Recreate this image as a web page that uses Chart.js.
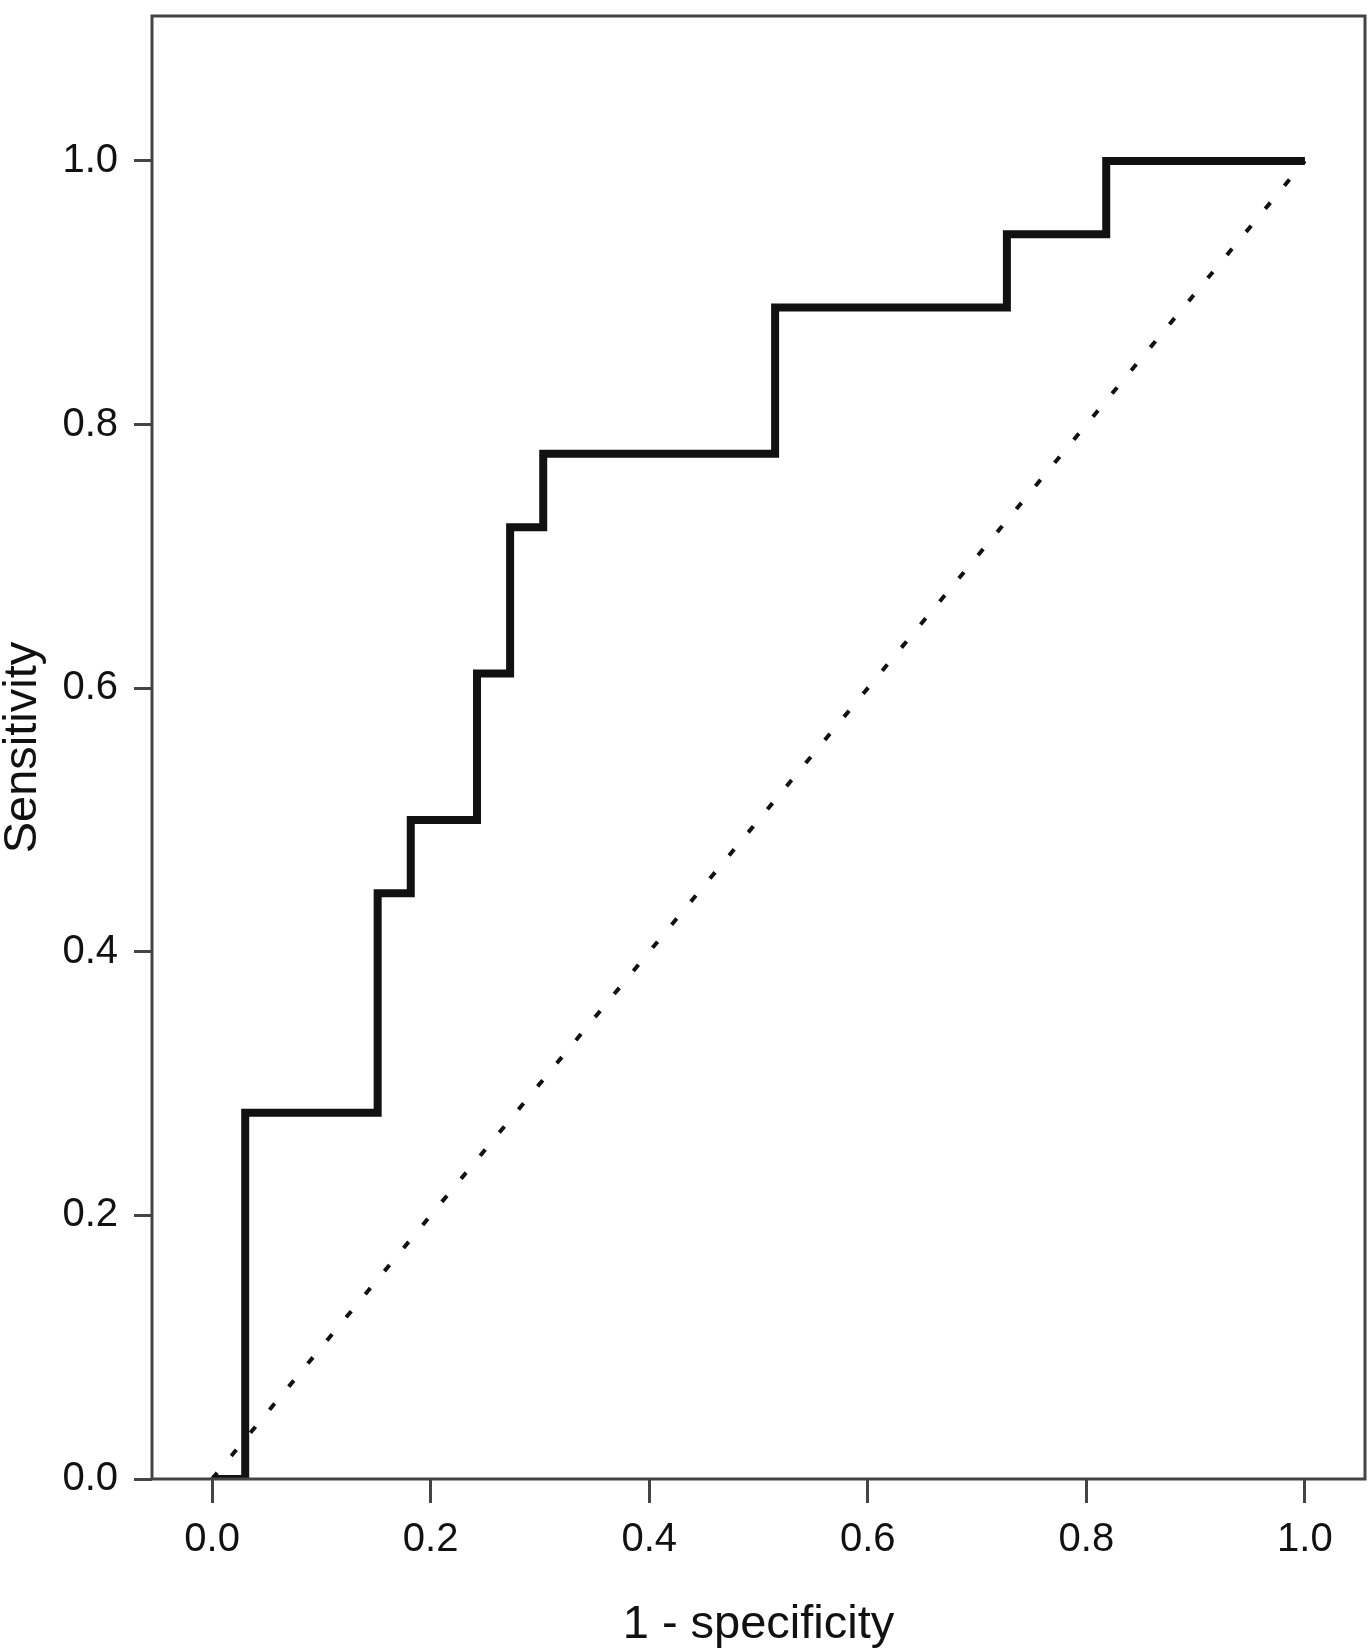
<!DOCTYPE html>
<html>
<head>
<meta charset="utf-8">
<script src="https://cdn.jsdelivr.net/npm/chart.js@4.4.1/dist/chart.umd.min.js"></script>
<style>
  body { margin: 0; background: #fff; }
  #wrap { width: 1370px; height: 1649px; position: relative; }
</style>
</head>
<body>
<div id="wrap"><canvas id="roc"></canvas></div>
<script>
// ROC step curve (1 - specificity, sensitivity)
const fpr = [0, 0.0303, 0.0303, 0.1515, 0.1515, 0.1818, 0.1818, 0.2424, 0.2424, 0.2727, 0.2727, 0.3030, 0.3030, 0.5152, 0.5152, 0.7273, 0.7273, 0.8182, 0.8182, 1.0];
const tpr = [0, 0, 0.2778, 0.2778, 0.4444, 0.4444, 0.5, 0.5, 0.6111, 0.6111, 0.7222, 0.7222, 0.7778, 0.7778, 0.8889, 0.8889, 0.9444, 0.9444, 1.0, 1.0];
// reference diagonal
const diagX = [0, 1];
const diagY = [0, 1];

const xTicks = [0, 0.2, 0.4, 0.6, 0.8, 1.0];
const yTicks = [0, 0.2, 0.4, 0.6, 0.8, 1.0];

const FONT = "'Liberation Sans', Arial, Helvetica, sans-serif";
const AXIS = '#444';

// box around the plot area
const frame = {
    id: 'frame',
    afterDraw(chart) {
        const { ctx, chartArea: a } = chart;
        ctx.save();
        ctx.strokeStyle = AXIS;
        ctx.lineWidth = 3;
        ctx.strokeRect(a.left, a.top, a.right - a.left, a.bottom - a.top);
        ctx.restore();
    }
};

const toPts = (xs, ys) => xs.map((x, i) => ({ x: x, y: ys[i] }));

new Chart(document.getElementById('roc'), {
    type: 'scatter',
    data: {
        datasets: [
            {
                data: toPts(diagX, diagY),
                showLine: true,
                borderColor: '#111',
                borderWidth: 4,
                borderDash: [8, 22],
                pointRadius: 0,
            },
            {
                data: toPts(fpr, tpr),
                showLine: true,
                borderColor: '#111',
                borderWidth: 8,
                borderJoinStyle: 'miter',
                borderCapStyle: 'butt',
                pointRadius: 0,
            },
        ]
    },
    options: {
        responsive: true,
        maintainAspectRatio: false,
        animation: false,
        layout: { padding: { top: 16, right: 5, left: 0, bottom: 0 } },
        plugins: {
            legend: { display: false },
            tooltip: { enabled: false },
        },
        scales: {
            x: {
                type: 'linear',
                min: -0.055,
                max: 1.055,
                afterBuildTicks: (s) => { s.ticks = xTicks.map(v => ({ value: v })); },
                afterFit: (s) => { s.height = 170; s.paddingLeft = 0; s.paddingRight = 0; },
                border: { display: false },
                grid: {
                    drawOnChartArea: false,
                    drawTicks: true,
                    tickLength: 24,
                    tickWidth: 3,
                    tickColor: AXIS,
                },
                ticks: {
                    padding: 13,
                    color: '#111',
                    font: { family: FONT, size: 40 },
                    maxRotation: 0,
                    callback: (v) => Number(v).toFixed(1),
                },
                title: {
                    display: true,
                    text: '1 - specificity',
                    color: '#111',
                    font: { family: FONT, size: 47, lineHeight: 1 },
                    padding: { top: 0, bottom: 0 },
                },
            },
            y: {
                type: 'linear',
                min: 0,
                max: 1.11,
                afterBuildTicks: (s) => { s.ticks = yTicks.map(v => ({ value: v })); },
                afterFit: (s) => { s.width = 152; s.paddingTop = 0; s.paddingBottom = 0; },
                border: { display: false },
                grid: {
                    drawOnChartArea: false,
                    drawTicks: true,
                    tickLength: 18,
                    tickWidth: 3,
                    tickColor: AXIS,
                },
                ticks: {
                    padding: 16,
                    color: '#111',
                    font: { family: FONT, size: 40 },
                    callback: (v) => Number(v).toFixed(1),
                },
                title: {
                    display: true,
                    text: 'Sensitivity',
                    color: '#111',
                    font: { family: FONT, size: 47, lineHeight: 1 },
                    padding: { top: 0, bottom: 0 },
                },
            },
        },
    },
    plugins: [frame],
});
</script>
</body>
</html>
